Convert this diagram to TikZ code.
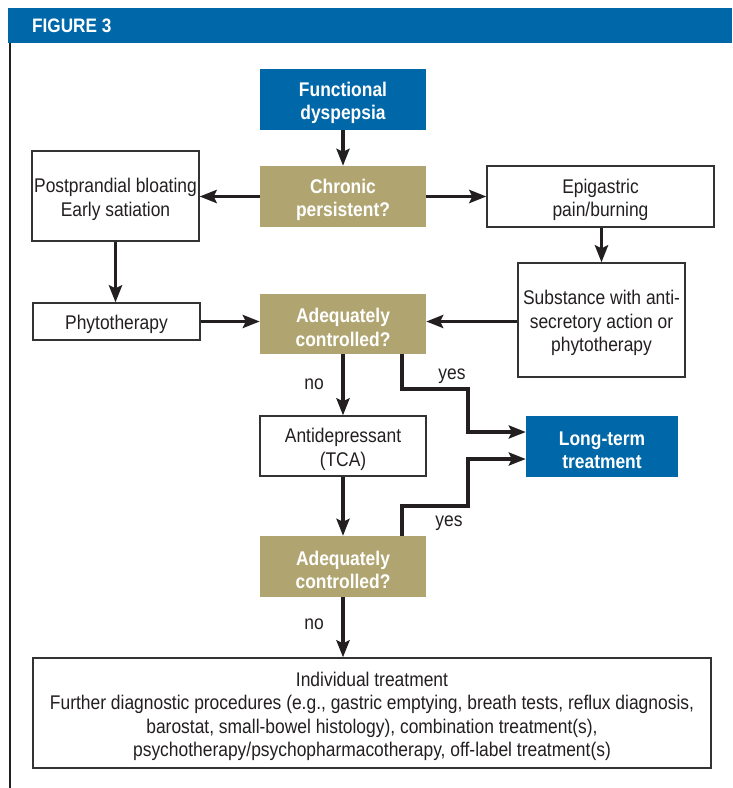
\documentclass[tikz,border=0pt]{standalone}
\usepackage{fontspec}
\setmainfont[FakeStretch=0.88]{Liberation Sans}
\usetikzlibrary{arrows.meta}
\definecolor{figblue}{RGB}{0,103,168}
\definecolor{figtan}{RGB}{176,165,113}
\definecolor{arrowblk}{RGB}{35,31,32}
\newcommand\topstrut{\rule{0pt}{21pt}}
\tikzset{
  x=1pt, y=-1pt,
  txt/.style={font=\fontsize{19.8}{23.5}\selectfont, text=arrowblk, align=center, inner sep=0pt},
  boxtxt/.style={txt},
  plainbox/.style={boxtxt, draw=black!80, line width=1.2pt, fill=white},
  bluebox/.style={boxtxt, fill=figblue, text=white, font=\fontsize{19.8}{23.5}\selectfont\bfseries},
  tanbox/.style={boxtxt, fill=figtan, text=white, font=\fontsize{19.8}{23.5}\selectfont\bfseries},
  flow/.style={draw=arrowblk, line width=3.8pt, line join=miter,
    -{Stealth[length=17pt,width=13pt,inset=3pt]}},
  lbl/.style={txt}
}
\begin{document}
\begin{tikzpicture}
\useasboundingbox (0,0) rectangle (732,788);
% header
\fill[figblue] (8,8) rectangle (732,42.5);
\node[anchor=west, text=white, font=\fontsize{19.5}{22}\selectfont\bfseries, inner sep=0pt] (title) at (32,26) {FIGURE 3};
\draw[line width=2pt, draw=arrowblk] (10,42.5) -- (10,788);

% nodes
\node[bluebox, minimum width=166pt, minimum height=61pt] (fd) at (343,99.5) {\topstrut Functional\\dyspepsia};
\node[tanbox, minimum width=166pt, minimum height=61pt] (cp) at (343,196.5) {\topstrut Chronic\\persistent?};
\node[plainbox, minimum width=167pt, minimum height=90pt] (pb) at (115.5,196) {\topstrut Postprandial bloating\\Early satiation};
\node[plainbox, minimum width=227pt, minimum height=61pt] (ep) at (600.5,196.5) {\topstrut Epigastric\\pain/burning};
\node[plainbox, minimum width=167pt, minimum height=114pt] (sub) at (601.5,320) {\topstrut Substance with anti-\\secretory action or\\phytotherapy};
\node[plainbox, minimum width=167pt, minimum height=37pt] (ph) at (116.5,321.5) {\topstrut Phytotherapy};
\node[tanbox, minimum width=166pt, minimum height=60pt] (ac1) at (343,324) {\topstrut Adequately\\controlled?};
\node[plainbox, minimum width=166pt, minimum height=60pt] (ad) at (343,446) {\topstrut Antidepressant\\(TCA)};
\node[bluebox, minimum width=152pt, minimum height=61pt] (lt) at (602,446.5) {\topstrut Long-term\\treatment};
\node[tanbox, minimum width=166pt, minimum height=61pt] (ac2) at (343,566.5) {\topstrut Adequately\\controlled?};
\node[plainbox, minimum width=678pt, minimum height=110pt] (ind) at (372,713) {\topstrut Individual treatment\\Further diagnostic procedures (e.g., gastric emptying, breath tests, reflux diagnosis,\\barostat, small-bowel histology), combination treatment(s),\\psychotherapy/psychopharmacotherapy, off-label treatment(s)};

% connectors
\draw[flow] (fd.south) -- (cp.north);
\draw[flow] (cp.west) -- (cp.west -| pb.east);
\draw[flow] (cp.east) -- (cp.east -| ep.west);
\draw[flow] (pb.south) -- (ph.north -| pb.south);
\draw[flow] (ep.south -| sub.north) -- (sub.north);
\draw[flow] (ph.east) -- (ph.east -| ac1.west);
\draw[flow] (sub.west |- ph.east) -- (ac1.east |- ph.east);
\draw[flow] (ac1.south) -- (ad.north);
\draw[flow] (ad.south) -- (ac2.north);
\draw[flow] (ac2.south) -- (ind.north -| ac2.south);

\coordinate (y1) at (468,389);
\coordinate (y2) at (468,506);
\draw[flow] ([xshift=59pt]ac1.south) |- (y1) |- ([yshift=14.5pt]lt.west);
\draw[flow] ([xshift=59pt]ac2.north) |- (y2) |- ([yshift=-12.5pt]lt.west);

% labels
\node[lbl] (no1) at (314,384) {no};
\node[lbl] (yes1) at (452,376) {yes};
\node[lbl] (yes2) at (449,523) {yes};
\node[lbl] (no2) at (314,624) {no};
\end{tikzpicture}
\end{document}
